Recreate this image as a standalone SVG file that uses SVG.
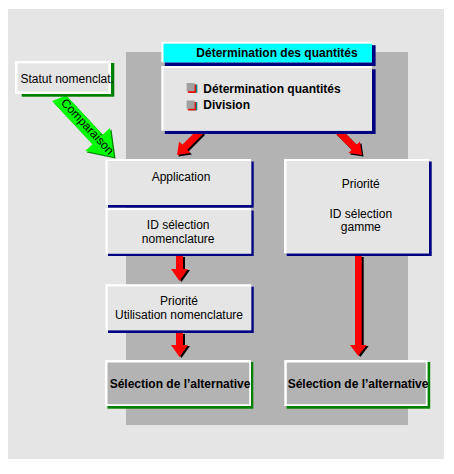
<svg xmlns="http://www.w3.org/2000/svg" width="454" height="474" viewBox="0 0 454 474">
<style>
text{font-family:"Liberation Sans",Arial,sans-serif;font-size:12px;fill:#000}
.b{font-weight:bold}
.m{text-anchor:middle}
.w{fill:#fff}
.nv{fill:#000080}
.gn{fill:#008000}
.lg{fill:#e5e5e5}
.dg{fill:#b3b3b3}
.red{fill:#ff0000}
.sh{fill:#000}
</style>
<rect x="0" y="0" width="454" height="474" fill="#fff"/>
<rect x="8" y="9" width="436" height="450" class="lg"/>
<rect x="126" y="52" width="282" height="373" class="dg"/>

<g id="connectors">
  <!-- green Comparaison arrow -->
  <g id="arrow-comparaison">
    <polygon class="gn" transform="translate(1.5,1.5)" points="66.1,95.5 102.7,134.7 110,127.9 114,157 85.2,151.1 92.5,144.3 52.1,101"/>
    <polygon fill="#00ff00" points="66.1,95.5 102.7,134.7 110,127.9 114,157 85.2,151.1 92.5,144.3 52.1,101"/>
    <text class="m" transform="translate(87.5,126.5) rotate(47)" x="0" y="4">Comparaison</text>
  </g>
  <!-- top diagonal arrows -->
  <polygon class="sh" transform="translate(1.5,1.5)" points="203.5,133.5 187.3,149.7 190.4,152.9 177,155 179.1,141.5 182.3,144.7 198.5,128.5"/>
  <polygon class="red" points="203.5,133.5 187.3,149.7 190.4,152.9 177,155 179.1,141.5 182.3,144.7 198.5,128.5"/>
  <polygon class="sh" transform="translate(1.5,1.5)" points="340.5,128.5 356.7,144.7 359.9,141.5 362,155 348.5,152.9 351.7,149.7 335.5,133.5"/>
  <polygon class="red" points="340.5,128.5 356.7,144.7 359.9,141.5 362,155 348.5,152.9 351.7,149.7 335.5,133.5"/>
  <!-- vertical arrows -->
  <polygon class="sh" transform="translate(2,1)" points="176,256 183,256 183,269 188,269 179.5,281 171,269 176,269"/>
  <polygon class="red" points="176,256 183,256 183,269 188,269 179.5,281 171,269 176,269"/>
  <polygon class="sh" transform="translate(2,1)" points="176,333 183,333 183,345 188,345 179.5,357 171,345 176,345"/>
  <polygon class="red" points="176,333 183,333 183,345 188,345 179.5,357 171,345 176,345"/>
  <polygon class="sh" transform="translate(2,1)" points="355,256 361.7,256 361.7,345 366.7,345 358.3,356 350,345 355,345"/>
  <polygon class="red" points="355,256 361.7,256 361.7,345 366.7,345 358.3,356 350,345 355,345"/>
</g>

<g id="statut">
  <rect x="21.7" y="63" width="92.6" height="33.7" class="gn"/>
  <rect x="15" y="61" width="96" height="33" class="w"/>
  <rect x="17.5" y="63.3" width="91" height="28.4" class="lg"/>
  <text x="20.5" y="83.3">Statut nomenclat.</text>
</g>

<g id="determination">
  <rect x="164.8" y="45.2" width="210.8" height="20.8" class="nv"/>
  <rect x="161.3" y="41.7" width="210.7" height="20.6" class="w"/>
  <rect x="163.5" y="43.7" width="208.5" height="18.6" fill="#00ffff"/>
  <text class="b m" x="277" y="57.3">Détermination des quantités</text>
  <rect x="164.8" y="69.3" width="210.8" height="64.7" class="nv"/>
  <rect x="161.3" y="66" width="210.7" height="64.7" class="w"/>
  <rect x="163.5" y="68" width="208.5" height="62.7" class="lg"/>
  <rect x="189.3" y="84.5" width="8" height="8.3" fill="#008080"/>
  <rect x="187.8" y="84.6" width="8" height="8.3" class="red"/>
  <rect x="186.6" y="83" width="8" height="8.3" fill="#a0a0a0"/>
  <text class="b" x="203.3" y="93.3">Détermination quantités</text>
  <rect x="189.3" y="102" width="8" height="8.3" fill="#008080"/>
  <rect x="187.8" y="102.1" width="8" height="8.3" class="red"/>
  <rect x="186.6" y="100.5" width="8" height="8.3" fill="#a0a0a0"/>
  <text class="b" x="203.3" y="108.7">Division</text>
</g>

<g id="application">
  <rect x="108" y="161.5" width="145.7" height="46.2" class="nv"/>
  <rect x="105.5" y="159" width="145.7" height="46" class="w"/>
  <rect x="107.7" y="161" width="143.5" height="44" class="lg"/>
  <text class="m" x="181" y="181">Application</text>
</g>

<g id="id-selection-nomenclature">
  <rect x="108" y="210.5" width="145.7" height="45.5" class="nv"/>
  <rect x="105.5" y="208" width="145.7" height="45.5" class="w"/>
  <rect x="107.7" y="210" width="143.5" height="43.5" class="lg"/>
  <text class="m" x="178.2" y="229">ID sélection</text>
  <text class="m" x="178.2" y="242.7">nomenclature</text>
</g>

<g id="priorite-utilisation">
  <rect x="108" y="286.7" width="145.7" height="46.3" class="nv"/>
  <rect x="105.5" y="284.2" width="145.7" height="46" class="w"/>
  <rect x="107.7" y="286.4" width="143.5" height="43.8" class="lg"/>
  <text class="m" x="179" y="305">Priorité</text>
  <text class="m" x="179" y="318.5">Utilisation nomenclature</text>
</g>

<g id="priorite-gamme">
  <rect x="286.7" y="161.5" width="145" height="94.5" class="nv"/>
  <rect x="284" y="159" width="145" height="94.3" class="w"/>
  <rect x="286.5" y="161" width="142.5" height="92.3" class="lg"/>
  <text class="m" x="360.8" y="188.3">Priorité</text>
  <text class="m" x="360.8" y="217.7">ID sélection</text>
  <text class="m" x="360.8" y="231">gamme</text>
</g>

<g id="selection-left">
  <rect x="107.5" y="362" width="145.8" height="46.7" class="gn"/>
  <rect x="105" y="360" width="146" height="46" class="w"/>
  <rect x="107.5" y="362.5" width="141.7" height="41.7" class="dg"/>
  <text class="b m" x="180" y="388">Sélection de l’alternative</text>
</g>

<g id="selection-right">
  <rect x="286.7" y="362" width="143.5" height="46.7" class="gn"/>
  <rect x="284.3" y="360" width="143.3" height="46" class="w"/>
  <rect x="286.8" y="362.5" width="139" height="41.7" class="dg"/>
  <text class="b m" x="358" y="388">Sélection de l’alternative</text>
</g>
</svg>
